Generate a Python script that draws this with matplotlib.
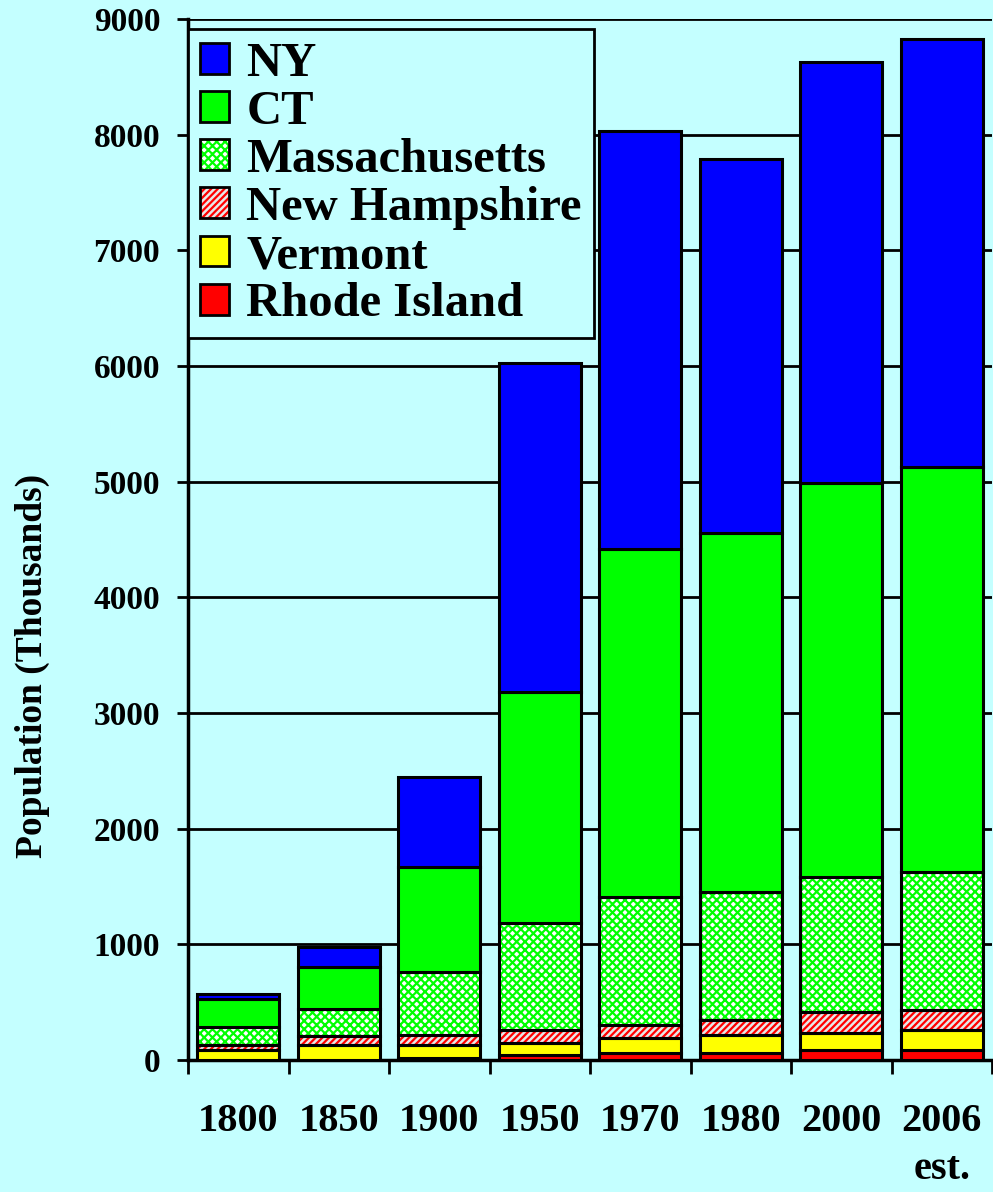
"""Stacked population bars by state, 1800-2006."""

import matplotlib.pyplot as plt
import numpy as np
from matplotlib.patches import Patch

# population in thousands, one list per state (bottom of stack first)
years = ["1800", "1850", "1900", "1950", "1970", "1980", "2000", "2006\nest."]
rhode_island = [0, 0, 20, 41, 63, 61, 84, 84]
vermont = [84, 127, 107, 103, 130, 155, 152, 173]
new_hampshire = [43, 83, 87, 115, 112, 130, 176, 173]
massachusetts = [156, 228, 549, 923, 1101, 1104, 1167, 1193]
connecticut = [242, 369, 903, 2002, 3012, 3103, 3412, 3501]
new_york = [43, 173, 778, 2845, 3614, 3237, 3637, 3700]

BG = "#c4ffff"

plt.rcParams["font.family"] = ["Liberation Serif", "DejaVu Serif"]
plt.rcParams["font.weight"] = "bold"
plt.rcParams["axes.labelweight"] = "bold"
plt.rcParams["hatch.linewidth"] = 1.6

# label, values, face colour, hatch colour, hatch
layers = [
    ("Rhode Island", rhode_island, "#ff0000", None, None),
    ("Vermont", vermont, "#ffff00", None, None),
    ("New Hampshire", new_hampshire, "#e8e8e8", "#ff0000", "/////"),
    ("Massachusetts", massachusetts, "#ffffff", "#00ff00", "xxxx"),
    ("CT", connecticut, "#00ff00", None, None),
    ("NY", new_york, "#0000ff", None, None),
]

fig = plt.figure(figsize=(9.93, 11.92), dpi=100, facecolor=BG)
ax = fig.add_axes([188 / 993, 132 / 1192, 804 / 993, 1041 / 1192])
ax.set_facecolor(BG)

x = np.arange(len(years))
width = 0.82
bottom = np.zeros(len(years))
handles = {}
for label, vals, face, hcol, hatch in layers:
    vals = np.asarray(vals, dtype=float)
    if hatch:
        # hatch layer first, then a plain outline on top so edges stay black
        ax.bar(x, vals, width, bottom=bottom, facecolor=face, edgecolor=hcol,
               hatch=hatch, linewidth=0, zorder=2)
        ax.bar(x, vals, width, bottom=bottom, facecolor="none",
               edgecolor="black", linewidth=2.2, zorder=3)
        handles[label] = (
            Patch(facecolor=face, edgecolor=hcol, hatch=hatch, linewidth=0),
            Patch(facecolor="none", edgecolor="black", linewidth=2),
        )
    else:
        ax.bar(x, vals, width, bottom=bottom, color=face,
               edgecolor="black", linewidth=2.2, zorder=3)
        handles[label] = Patch(facecolor=face, edgecolor="black", linewidth=2)
    bottom += vals

order = ["NY", "CT", "Massachusetts", "New Hampshire", "Vermont", "Rhode Island"]
leg = ax.legend([handles[k] for k in order], order, loc="upper left",
                bbox_to_anchor=(0, 0.99), borderaxespad=0, fontsize=35,
                handlelength=0.6, handleheight=0.6, handletextpad=0.35,
                labelspacing=0.085, borderpad=0.25, fancybox=False,
                edgecolor="black", facecolor=BG, framealpha=1)
leg.get_frame().set_linewidth(2)
leg.set_zorder(5)

ax.set_xlim(-0.5, len(years) - 0.5)
ax.set_ylim(0, 9000)
ax.set_yticks(range(0, 9001, 1000))
ax.tick_params(axis="y", length=8, width=2, pad=12, labelsize=24)
ax.set_xticks(x)
ax.set_xticklabels(years, linespacing=1.4)
ax.tick_params(axis="x", which="major", length=0, pad=31, labelsize=29)
ax.set_xticks(np.arange(-0.5, len(years)), minor=True)
ax.tick_params(axis="x", which="minor", length=10, width=2)

ax.yaxis.grid(True, color="black", linewidth=2)
ax.set_axisbelow(True)
for side in ("top", "right"):
    ax.spines[side].set_visible(False)
for side in ("left", "bottom"):
    ax.spines[side].set_linewidth(2.5)

ax.set_ylabel("Population (Thousands)", fontsize=27, fontweight="bold")
ax.yaxis.label.set_va("center")
ax.yaxis.set_label_coords(-0.193, 0.379)

fig.savefig("out.png", dpi=100, facecolor=BG)
